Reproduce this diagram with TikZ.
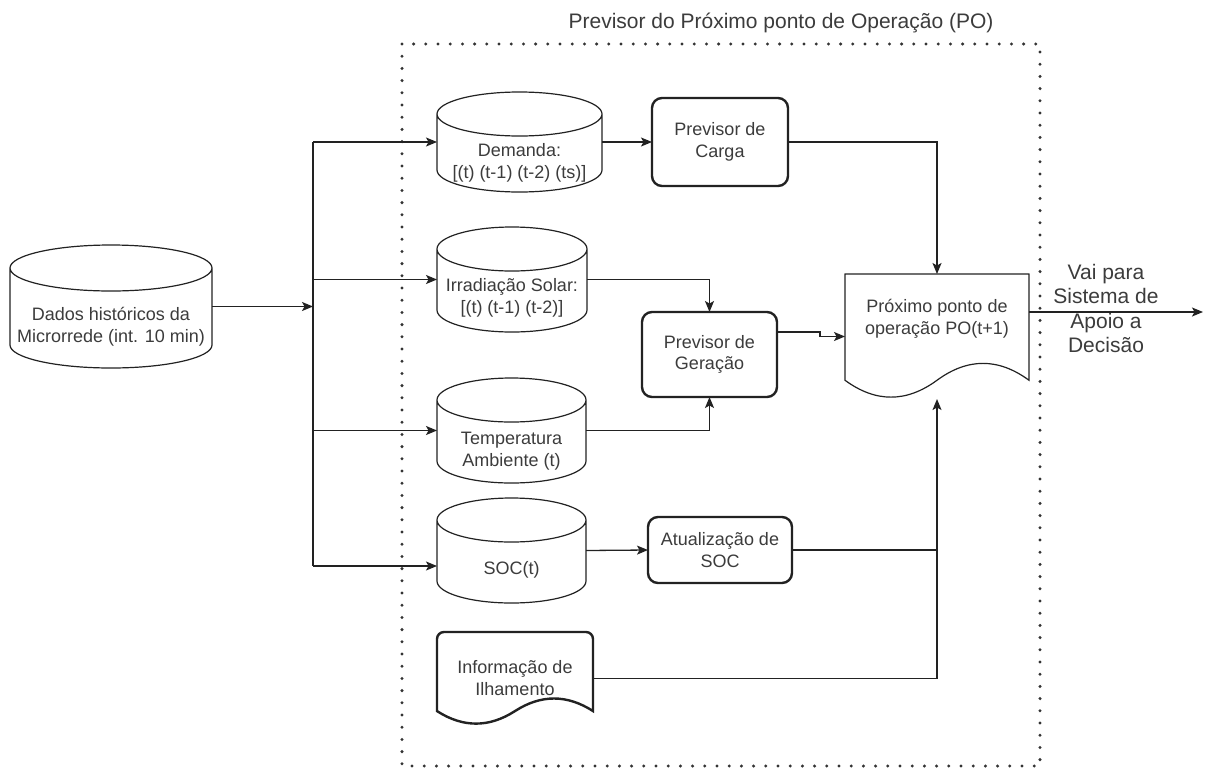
\documentclass[tikz,border=0pt]{standalone}
\usepackage{fontspec}
\setmainfont{Liberation Sans}
\usetikzlibrary{arrows.meta,calc}
\definecolor{ln}{HTML}{222222}
\definecolor{tx}{HTML}{3C3C3C}
\definecolor{dotc}{HTML}{333333}
\tikzset{
  shapebox/.style={inner sep=0pt, outer sep=0pt},
  lbl/.style={font=\fontsize{18}{21.6}\selectfont, align=center, text=tx, inner sep=0pt},
  biglbl/.style={font=\fontsize{21}{24.5}\selectfont, align=center, text=tx, inner sep=0pt},
  thinline/.style={draw=ln, line width=1.2pt},
  boldline/.style={draw=ln, line width=2.4pt},
  proc/.style={boldline, rounded corners=10pt, lbl, outer sep=0pt},
  conn/.style={draw=ln, line width=1.3pt},
  arr/.style={conn, -{Stealth[length=11pt,width=9pt,inset=2.5pt]}},
  frame/.style={draw=dotc, line width=3.3pt, dash pattern=on 0pt off 12.2pt, line cap=round}
}
% cylinder outline drawn on an invisible node
\newcommand\drawcyl[2]{%
  \draw[thinline] let \p1=(#1.north west), \p2=(#1.south east), \n1={(\x2-\x1)/2} in
    (\x1,\y1-#2) -- (\x1,\y2+#2) arc[start angle=180, end angle=360, x radius=\n1, y radius=#2] -- (\x2,\y1-#2)
    (\x1+\n1,\y1-#2) ellipse [x radius=\n1, y radius=#2];}
% document shape (wavy bottom)
\newcommand\drawdoc[3]{%
  \draw[#1] let \p1=(#2.north west), \p2=(#2.south east), \n1={\x2-\x1}, \n2={\y1-\y2},
      \n3={\y2+0.15*\n2}, \n4={0.18*\n2} in
    (\x1,\n3) -- (\x1,\y1-#3) arc[start angle=180, end angle=90, radius=#3]
    -- (\x2-#3,\y1) arc[start angle=90, end angle=0, radius=#3] -- (\x2,\n3)
    .. controls (\x2-\n1/6,\n3+\n4) and (\x1+2*\n1/3,\n3+\n4) .. (\x1+\n1/2,\n3)
    .. controls (\x1+\n1/3,\n3-\n4) and (\x1+\n1/6,\n3-\n4) .. (\x1,\n3) -- cycle;}
\begin{document}
\begin{tikzpicture}[x=1pt, y=1pt]
\fill[white] (0,0) rectangle (1210,-769);
\useasboundingbox (0,0) rectangle (1210,-769);

% frame and title
\draw[frame] (402,-44) rectangle (1040,-766);
\node[biglbl] (title) at (781,-23) {Previsor do Próximo ponto de Operação (PO)};

% cylinders
\node[shapebox, minimum width=202, minimum height=123] (dados) at (111,-306.5) {};
\drawcyl{dados}{23pt}
\node[lbl] (tdados) at (111,-326.5) {Dados históricos da\\Microrrede (int. 10 min)};

\node[shapebox, minimum width=165, minimum height=100] (dem) at (519.5,-142) {};
\drawcyl{dem}{22pt}
\node[lbl] (tdem) at (519.5,-163) {Demanda:\\{}[(t) (t-1) (t-2) (ts)]};

\node[shapebox, minimum width=150, minimum height=105] (irr) at (512,-279.5) {};
\drawcyl{irr}{22pt}
\node[lbl] (tirr) at (512,-298) {Irradiação Solar:\\{}[(t) (t-1) (t-2)]};

\node[shapebox, minimum width=149, minimum height=105] (tmp) at (511.5,-430.5) {};
\drawcyl{tmp}{22pt}
\node[lbl] (ttmp) at (511.5,-451) {Temperatura\\Ambiente (t)};

\node[shapebox, minimum width=149, minimum height=105] (soc) at (511.5,-550.5) {};
\drawcyl{soc}{22pt}
\node[lbl] (tsoc) at (511.5,-570) {SOC(t)};

% process boxes
\node[proc, minimum width=136, minimum height=88] (carga) at (720,-142) {Previsor de\\Carga};
\node[proc, minimum width=135, minimum height=85] (ger) at (709.5,-354.5) {Previsor de\\Geração};
\node[proc, minimum width=144, minimum height=66] (atu) at (720,-550) {Atualização de\\SOC};

% documents
\node[shapebox, minimum width=184, minimum height=125] (prox) at (937,-336.5) {};
\drawdoc{thinline}{prox}{0.01pt}
\node[lbl] (tprox) at (937,-319) {Próximo ponto de\\operação PO(t+1)};

\node[shapebox, minimum width=156, minimum height=93] (info) at (515,-678.5) {};
\drawdoc{boldline}{info}{7pt}
\node[lbl] (tinfo) at (515,-678) {Informação de\\Ilhamento};

% output label
\node[biglbl] (vai) at (1106,-308.5) {Vai para\\Sistema de\\Apoio a\\Decisão};

% connector coordinates
\coordinate (b1) at (313,-142);
\coordinate (b2) at (313,-279.5);
\coordinate (b3) at (313,-430.5);
\coordinate (b4) at (313,-566);
\coordinate (bm) at (313,-306.5);
\coordinate (s4) at (437,-566);
\coordinate (g1) at (777,-332);
\coordinate (po) at (1029,-312);
\coordinate (out) at (1203,-312);

% connectors
\draw[arr] (dados.east) -- (bm);
\draw[conn] (b1) -- (b4);
\draw[arr] (b1) -- (dem.west);
\draw[arr] (b2) -- (irr.west);
\draw[arr] (b3) -- (tmp.west);
\draw[arr] (b4) -- (s4);
\draw[arr] (dem.east) -- (carga.west);
\draw[arr] (carga.east) -| (prox.north);
\draw[arr] (irr.east) -| (ger.north);
\draw[arr] (tmp.east) -| (ger.south);
\draw[arr] (g1) -- ++(43,0) |- (prox.west);
\draw[arr] (soc.east) -- (atu.west);
\draw[arr] (atu.east) -| (prox.south);
\draw[conn] (info.east) -- (info.east -| prox.south) -- (atu.east -| prox.south);
\draw[arr] (po) -- (out);
\end{tikzpicture}
\end{document}
